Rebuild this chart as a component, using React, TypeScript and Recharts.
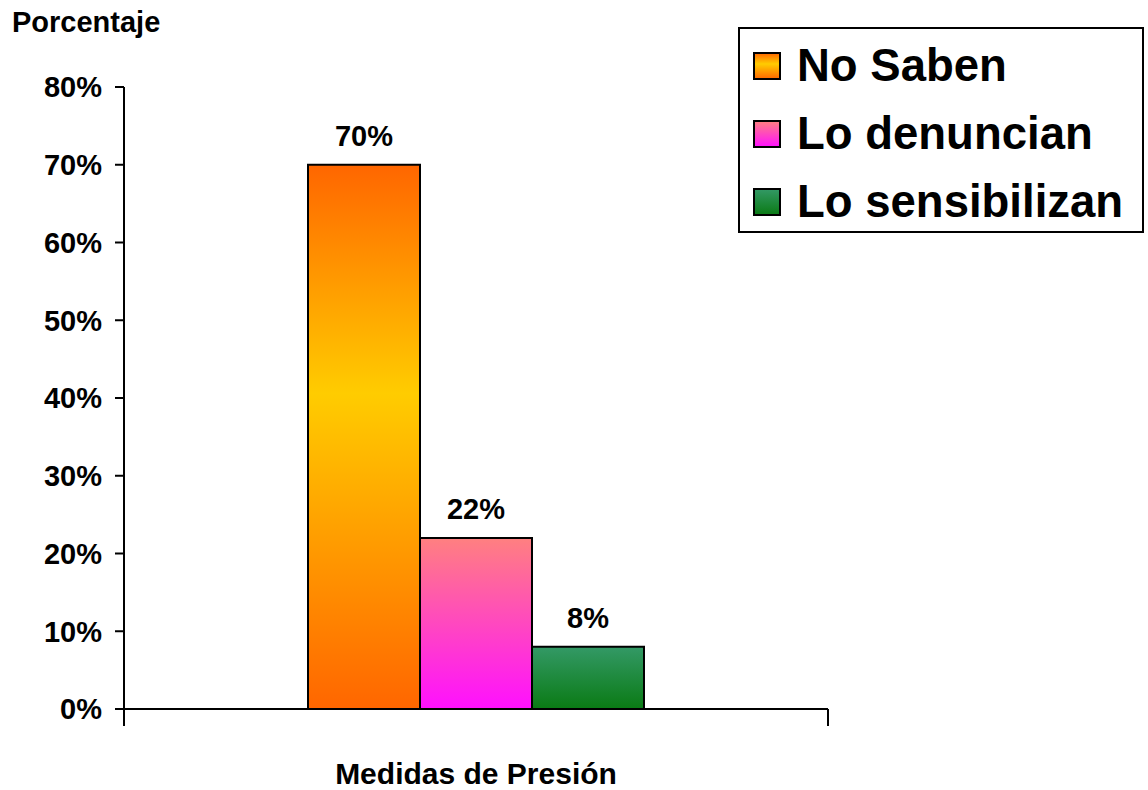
import React from 'react';
import { BarChart, Bar, XAxis, YAxis, Legend, LabelList } from 'recharts';

const categories = ['Medidas de Presión'];
const seriesNames = ['No Saben', 'Lo denuncian', 'Lo sensibilizan'];
const noSaben = [70];
const loDenuncian = [22];
const loSensibilizan = [8];
const yTicks = [0, 10, 20, 30, 40, 50, 60, 70, 80];
const yAxisTitle = 'Porcentaje';

const seriesKeys = ['noSaben', 'loDenuncian', 'loSensibilizan'];
const gradients = [
  [{ o: 0, c: '#FF6600' }, { o: 0.42, c: '#FFCC00' }, { o: 1, c: '#FF6600' }],
  [{ o: 0, c: '#FF8080' }, { o: 1, c: '#FF10FF' }],
  [{ o: 0, c: '#339966' }, { o: 1, c: '#0A7A14' }],
];

const data = categories.map((cat, i) => ({
  category: cat,
  noSaben: noSaben[i],
  loDenuncian: loDenuncian[i],
  loSensibilizan: loSensibilizan[i],
}));

const FONT = '"Liberation Sans", Arial, Helvetica, sans-serif';

const GradDefs = ({ prefix }: { prefix: string }) => (
  <defs>
    {gradients.map((g, i) => (
      <linearGradient key={i} id={`${prefix}${i}`} x1="0" y1="0" x2="0" y2="1">
        {g.map((s, j) => (
          <stop key={j} offset={s.o} stopColor={s.c} />
        ))}
      </linearGradient>
    ))}
  </defs>
);

const XTick = (props: any) => {
  const { x, y, width, payload } = props;
  const half = (width || 0) / 2;
  return (
    <g>
      <line x1={x - half} x2={x - half} y1={y} y2={y + 17} stroke="#000" strokeWidth={2} />
      <line x1={x + half} x2={x + half} y1={y} y2={y + 17} stroke="#000" strokeWidth={2} />
      <text
        x={x}
        y={y + 75}
        textAnchor="middle"
        fontFamily={FONT}
        fontWeight="bold"
        fontSize={30}
        fill="#000"
      >
        {payload.value}
      </text>
    </g>
  );
};

const YTitle = (props: any) => {
  const vb = props.viewBox || {};
  return (
    <text
      x={(vb.x || 0) + 12}
      y={(vb.y || 0) - 55}
      fontFamily={FONT}
      fontWeight="bold"
      fontSize={29}
      fill="#000"
    >
      {yAxisTitle}
    </text>
  );
};

const LegendBox = (props: any) => {
  const payload = [...(props.payload || [])].sort(
    (a: any, b: any) => seriesKeys.indexOf(a.dataKey) - seriesKeys.indexOf(b.dataKey)
  );
  return (
    <div
      style={{
        width: 406,
        height: 206,
        boxSizing: 'border-box',
        border: '2px solid #000',
        background: '#fff',
        paddingTop: 3,
        paddingLeft: 13,
        fontFamily: FONT,
      }}
    >
      {payload.map((p: any, i: number) => {
        const si = seriesKeys.indexOf(p.dataKey);
        return (
          <div key={i} style={{ display: 'flex', alignItems: 'center', height: 68 }}>
            <svg width={28} height={28} style={{ display: 'block', marginRight: 16 }}>
              <GradDefs prefix={`lg${si}_`} />
              <rect x={1} y={1} width={26} height={26} fill={`url(#lg${si}_${si})`} stroke="#000" strokeWidth={2} />
            </svg>
            <span style={{ fontSize: 45.5, fontWeight: 'bold', color: '#000', lineHeight: '46px' }}>
              {p.value}
            </span>
          </div>
        );
      })}
    </div>
  );
};

export default function App() {
  return (
    <div style={{ position: 'absolute', left: 0, top: 0, width: 1148, height: 790, background: '#fff' }}>
      <BarChart
        width={1148}
        height={790}
        data={data}
        margin={{ top: 87, right: 320, bottom: 0, left: 0 }}
        barSize={112}
        barGap={0}
      >
        <GradDefs prefix="bg" />
        <XAxis
          dataKey="category"
          height={81}
          tickLine={false}
          tickSize={0}
          tickMargin={0}
          axisLine={{ stroke: '#000', strokeWidth: 2 }}
          tick={<XTick />}
          interval={0}
        />
        <YAxis
          width={124}
          domain={[0, 80]}
          ticks={yTicks}
          interval={0}
          tickFormatter={(v: number) => `${v}%`}
          tickSize={9}
          tickMargin={13}
          axisLine={{ stroke: '#000', strokeWidth: 2 }}
          tickLine={{ stroke: '#000', strokeWidth: 2 }}
          tick={{ fontFamily: FONT, fontWeight: 'bold', fontSize: 29, fill: '#000' }}
          label={<YTitle />}
        />
        <Legend
          layout="vertical"
          align="center"
          verticalAlign="middle"
          content={<LegendBox />}
          wrapperStyle={{ left: 738, top: 27, width: 406, height: 206 }}
        />
        {seriesKeys.map((k, i) => (
          <Bar
            key={k}
            dataKey={k}
            name={seriesNames[i]}
            fill={`url(#bg${i})`}
            stroke="#000"
            strokeWidth={2}
            isAnimationActive={false}
          >
            <LabelList
              dataKey={k}
              position="top"
              offset={19}
              formatter={(v: any) => `${v}%`}
              style={{ fontFamily: FONT, fontWeight: 'bold', fontSize: 29, fill: '#000' }}
            />
          </Bar>
        ))}
      </BarChart>
    </div>
  );
}
